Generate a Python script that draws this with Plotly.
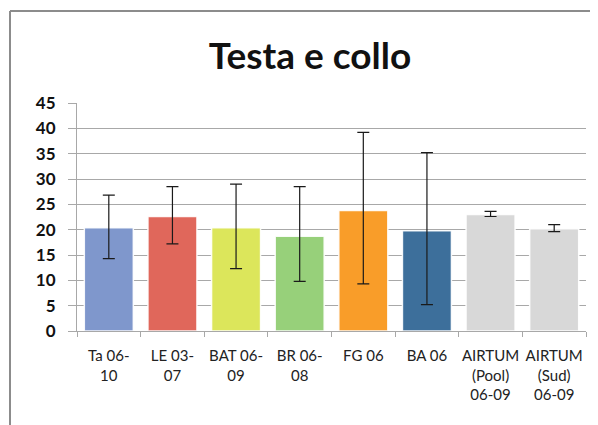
import plotly.graph_objects as go

categories = ["Ta 06-<br>10", "LE 03-<br>07", "BAT 06-<br>09", "BR 06-<br>08", "FG 06", "BA 06",
              "AIRTUM<br>(Pool)<br>06-09", "AIRTUM<br>(Sud)<br>06-09"]
values = [20.4, 22.6, 20.4, 18.7, 23.8, 19.8, 23.0, 20.2]
upper = [26.8, 28.5, 29.0, 28.5, 39.2, 35.2, 23.6, 21.0]
lower = [14.3, 17.2, 12.3, 9.8, 9.3, 5.2, 22.6, 19.6]
colors = ["#7f97cc", "#e0675b", "#dce65b", "#97d07a", "#f99d29", "#3d6f9b", "#d8d8d8", "#d8d8d8"]

err_plus = [u - v for u, v in zip(upper, values)]
err_minus = [v - l for v, l in zip(values, lower)]

W, H = 598, 425
OFF = 8  # page offset of the figure
L, R, T, B = 77 - OFF, 20, 103 - OFF, 102
pw = W - L - R
ph = H - T - B

fig = go.Figure(go.Bar(
    x=categories, y=values,
    marker=dict(color=colors, line=dict(color="rgba(255,255,255,0.9)", width=1.5)),
    error_y=dict(type="data", symmetric=False, array=err_plus, arrayminus=err_minus,
                 color="#1a1a1a", thickness=1.2, width=6),
))

def px_x(p):
    return (p - OFF - L) / pw

def px_y(p):
    return (H - B - (p - OFF)) / ph

fig.update_layout(
    width=W, height=H,
    margin=dict(l=L, r=R, t=T, b=B, autoexpand=False),
    paper_bgcolor="white", plot_bgcolor="white",
    bargap=0.23,
    showlegend=False,
    font=dict(family="Lato, Liberation Sans, sans-serif", color="#1a1a1a"),
    title=dict(text="<b>Testa e collo</b>", x=(310 - OFF) / W, xanchor="center",
               y=1 - (56 - OFF) / H, yanchor="middle", yref="container",
               font=dict(size=37, color="#111111")),
    shapes=[
        dict(type="line", xref="paper", yref="paper", x0=px_x(10), x1=px_x(620),
             y0=px_y(11), y1=px_y(11), line=dict(color="#8c8c8c", width=2)),
        dict(type="line", xref="paper", yref="paper", x0=px_x(10), x1=px_x(10),
             y0=px_y(11), y1=px_y(440), line=dict(color="#8c8c8c", width=2)),
    ],
)

fig.update_yaxes(
    range=[0, 45], dtick=5, tick0=0, automargin=False,
    showgrid=True, gridcolor="#a8a8a8", gridwidth=1.3,
    showline=True, linecolor="#a8a8a8", linewidth=1,
    ticks="outside", ticklen=8, tickcolor="#a8a8a8",
    tickfont=dict(size=17, color="#111111", family="Lato, Liberation Sans, sans-serif", weight="bold"),
    ticklabelstandoff=9,
    zeroline=False,
)
fig.update_xaxes(
    automargin=False, tickangle=0,
    showline=True, linecolor="#a8a8a8", linewidth=1.3,
    ticks="outside", ticklen=5, tickcolor="#a8a8a8", tickson="boundaries",
    tickfont=dict(size=15, color="#222222"),
    ticklabelstandoff=11,
)

fig.write_html("out.html")
